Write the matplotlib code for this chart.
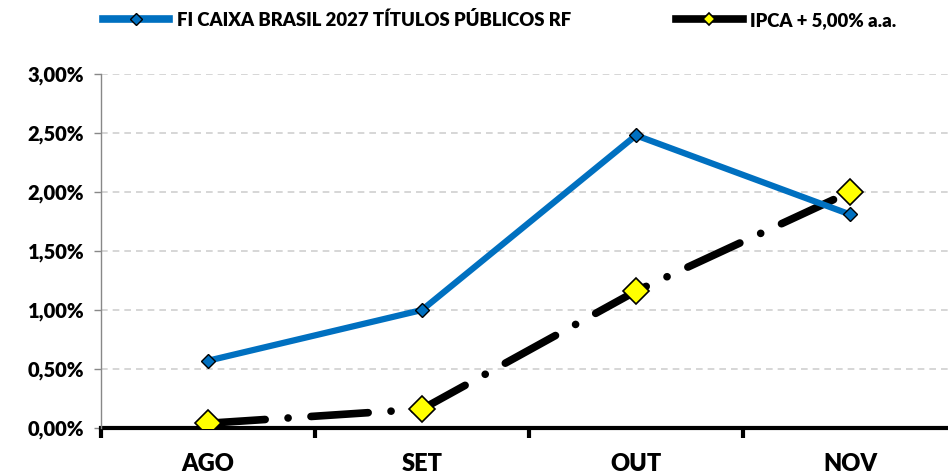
import matplotlib
matplotlib.use("Agg")
import matplotlib.pyplot as plt
from matplotlib.ticker import FuncFormatter

plt.rcParams['font.family'] = ['Lato', 'DejaVu Sans']

months = ["AGO", "SET", "OUT", "NOV"]
fundo = [0.57, 1.00, 2.48, 1.81]
ipca = [0.04, 0.16, 1.16, 2.00]
y_ticks = [0.0, 0.5, 1.0, 1.5, 2.0, 2.5, 3.0]

blue = "#0070C0"

fig = plt.figure(figsize=(9.48, 4.75), dpi=100)
ax = fig.add_axes([101 / 948, 47 / 475, 856 / 948, 354 / 475])

x = list(range(len(months)))

ax.plot(x, fundo, color=blue, lw=4.5, marker="D", markersize=7,
        markerfacecolor=blue, markeredgecolor="black", markeredgewidth=1,
        label="FI CAIXA BRASIL 2027 TÍTULOS PÚBLICOS RF", zorder=4)

ln, = ax.plot(x, ipca, color="black", lw=5.5, marker="D", markersize=13,
              markerfacecolor="#FFFF00", markeredgecolor="black", markeredgewidth=1.2,
              label="IPCA + 5,00% a.a.", zorder=3, dash_capstyle="round")
ln.set_dashes([7.5, 3.0, 0.01, 3.0])

ax.set_xlim(-0.5, 3.5)
ax.set_ylim(0, 3.0)
ax.set_yticks(y_ticks)
ax.yaxis.set_major_formatter(FuncFormatter(lambda v, p: f"{v:.2f}%".replace(".", ",")))
for t in y_ticks[1:]:
    ax.axhline(t, color="#D0D0D0", lw=1.2, ls=(0, (4, 3)), zorder=1)

ax.set_xticks(x)
ax.set_xticklabels(months)
ax.set_xticks([-0.5, 0.5, 1.5, 2.5, 3.5], minor=True)
ax.tick_params(axis="x", which="major", length=0, pad=18, labelsize=17)
ax.tick_params(axis="x", which="minor", length=7, width=3, color="black", direction="out")
ax.tick_params(axis="y", length=5, width=1, color="#888888", labelsize=14.5, pad=7)
for lab in ax.get_xticklabels() + ax.get_yticklabels():
    lab.set_fontweight("heavy")

for s in ["top", "right"]:
    ax.spines[s].set_visible(False)
ax.spines["left"].set_color("#888888")
ax.spines["left"].set_linewidth(1)
ax.spines["bottom"].set_color("black")
ax.spines["bottom"].set_linewidth(3)
ax.spines["bottom"].set_zorder(2)

leg = fig.legend(loc="upper center", bbox_to_anchor=(0.527, 1.012), ncol=2, frameon=False,
                 prop={"weight": "heavy", "size": 13.3}, handlelength=3.6,
                 columnspacing=5.7, handletextpad=0.4)
for h in leg.legend_handles:
    h.set_markersize(6)
    h.set_linestyle("-")
    h.set_linewidth(5.5)

fig.savefig("out.png", dpi=100)
